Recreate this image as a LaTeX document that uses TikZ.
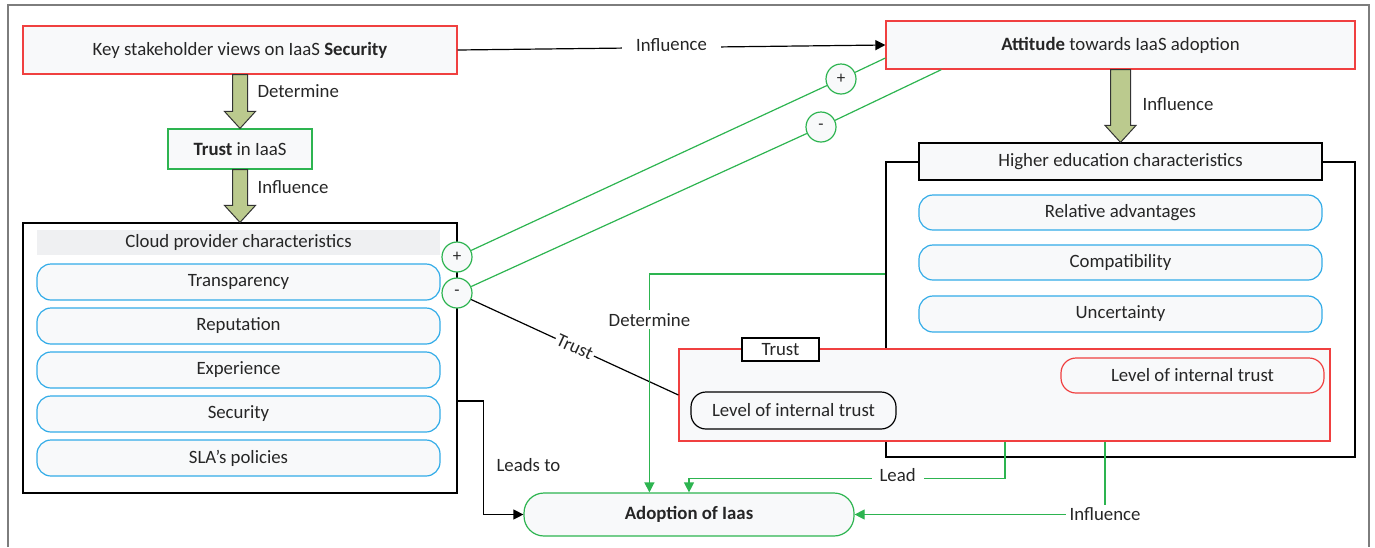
\documentclass[tikz,border=0pt]{standalone}
\usepackage{fontspec}
\setmainfont{Carlito}
\usetikzlibrary{arrows.meta,calc}
\definecolor{txt}{RGB}{38,38,38}
\definecolor{rd}{RGB}{240,64,64}
\definecolor{gn}{RGB}{45,180,80}
\definecolor{bl}{RGB}{50,172,232}
\definecolor{boxfill}{RGB}{248,249,250}
\definecolor{hdrfill}{RGB}{239,240,242}
\definecolor{olivefill}{RGB}{187,202,142}
\definecolor{framecol}{RGB}{125,125,125}
\newcommand{\fatarrow}[3]{%
  \path[fatst] let \p1=(#1), \p2=(#2) in
   (\x1-#3,\y1) -- (\x1+#3,\y1) -- (\x1+#3,\y2+17pt) -- (\x1+15.5pt,\y2+17pt)
   -- (\x1,\y2) -- (\x1-15.5pt,\y2+17pt) -- (\x1-#3,\y2+17pt) -- cycle;}
\begin{document}
\begin{tikzpicture}[x=1pt,y=-1pt,font=\fontsize{18.8}{22}\selectfont,text=txt,
  base/.style={draw,line width=1.2pt,inner sep=0pt,align=center},
  redbox/.style={base,draw=rd,fill=boxfill},
  greenbox/.style={base,draw=gn,fill=boxfill},
  blackbox/.style={base,draw=black,fill=white},
  hdr/.style={base,draw=black,fill=boxfill},
  item/.style={base,draw=bl,fill=boxfill,rounded corners=14pt,minimum width=403pt,minimum height=36pt},
  pill/.style={base,fill=boxfill,rounded corners=15pt},
  sgn/.style={circle,draw=gn,line width=1.2pt,fill=boxfill,minimum size=30pt,inner sep=0pt,font=\fontsize{17}{17}\selectfont},
  fatst/.style={draw=black!80,line width=1pt,fill=olivefill},
  gline/.style={draw=gn,line width=1.2pt},
  garrow/.style={gline,-{Triangle[length=10pt,width=10pt]}},
  barrow/.style={draw=black,line width=1.2pt,-{Triangle[length=10pt,width=10pt]}},
  lbl/.style={fill=white,inner sep=3pt,text=txt}]
\useasboundingbox (0,0) rectangle (1375,547);
\draw[framecol,line width=1.5pt] (8,547) -- (8,5) -- (1369,5) -- (1369,547);

% top row
\node[redbox,minimum width=434pt,minimum height=48pt] (k) at (240,50) {Key stakeholder views on IaaS \textbf{Security}};
\node[greenbox,minimum width=144pt,minimum height=40pt] (t) at (240,149) {\textbf{Trust} in IaaS};
\node[redbox,minimum width=469pt,minimum height=48pt] (att) at (1120.5,45) {\textbf{Attitude} towards IaaS adoption};

% cloud provider
\node[blackbox,minimum width=434pt,minimum height=270pt] (cp) at (240,358) {};
\node[base,draw=none,fill=hdrfill,minimum width=403pt,minimum height=25pt] (cph) at (238.5,242.5) {Cloud provider characteristics};
\node[item] (i1) at (238.5,282) {Transparency};
\node[item] (i2) at (238.5,326) {Reputation};
\node[item] (i3) at (238.5,370) {Experience};
\node[item] (i4) at (238.5,414) {Security};
\node[item] (i5) at (238.5,458) {SLA's policies};

% higher education
\node[blackbox,minimum width=469pt,minimum height=295pt] (he) at (1120.5,309.5) {};
\node[hdr,minimum width=403pt,minimum height=37pt] (heh) at (1120.5,161.5) {Higher education characteristics};
\node[item,minimum height=35pt] (h1) at (1120.5,212.5) {Relative advantages};
\node[item,minimum height=35pt] (h2) at (1120.5,262.5) {Compatibility};
\node[item,minimum height=36pt] (h3) at (1120.5,314) {Uncertainty};

% trust box
\node[redbox,minimum width=651pt,minimum height=92pt] (tr) at (1004.5,395) {};
\node[hdr,fill=white,minimum width=77pt,minimum height=23pt] (trl) at (780.5,349.5) {Trust};
\node[pill,draw=black,minimum width=205pt,minimum height=37pt] (lit1) at (793.5,410.5) {Level of internal trust};
\node[pill,draw=rd,minimum width=263pt,minimum height=35pt] (lit2) at (1192.5,375.5) {Level of internal trust};

% adoption
\node[greenbox,rounded corners=20pt,minimum width=330pt,minimum height=43pt] (ad) at (689,514.5) {\textbf{Adoption of Iaas}};

% signs
\node[sgn] (p1) at (457,257) {+};
\node[sgn] (m1) at (457,293) {-};
\node[sgn] (p2) at (841,79) {+};
\node[sgn] (m2) at (821,127) {-};
\coordinate (a1) at ($(att.west)+(0,13)$);
\coordinate (a2) at ($(att.south west)+(56,0)$);

% fat arrows
\fatarrow{k.south}{t.north}{7.5pt}
\fatarrow{t.south}{cp.north}{7.5pt}
\fatarrow{att.south}{heh.north}{10pt}
\node[anchor=west] (ld1) at (254,91) {Determine};
\node[anchor=west] (ld2) at (254,187) {Influence};
\node[anchor=west] (ld3) at (1139,104) {Influence};

% connectors
\draw[barrow] (k.east) -- node[lbl,sloped,inner xsep=14pt,yshift=3pt] (lin) {Influence} (att.west);
\draw[gline] (p1) -- (p2) -- (a1);
\draw[gline] (m1) -- (m2) -- (a2);
\draw[draw=black,line width=1.2pt] (m1) -- node[lbl,sloped,inner sep=2pt] (ltr) {Trust} (tr.west);
\coordinate (cpo) at ($(cp.east)+(0,43)$);
\draw[barrow] (cpo) -- ++(26,0) |- node[pos=0.28,anchor=west,xshift=9pt] (llt) {Leads to} (ad.west);
\coordinate (heo) at ($(he.west)+(0,-35.5)$);
\coordinate (adn) at ($(ad.north west)+(126,0)$);
\draw[garrow] (heo) -| node[lbl,pos=0.605] (ldt) {Determine} (adn);
\coordinate (tro1) at ($(tr.south)+(0.5,0)$);
\coordinate (tro2) at ($(tr.south)+(100.5,0)$);
\draw[garrow] (tro1) -- ++(0,37) -| node[lbl,pos=0.17,inner xsep=8pt,yshift=4pt] (lld) {Lead} (ad.north);
\draw[garrow] (tro2) |- node[lbl,pos=0.5,inner xsep=4pt] (lif) {Influence} (ad.east);
\end{tikzpicture}
\end{document}
